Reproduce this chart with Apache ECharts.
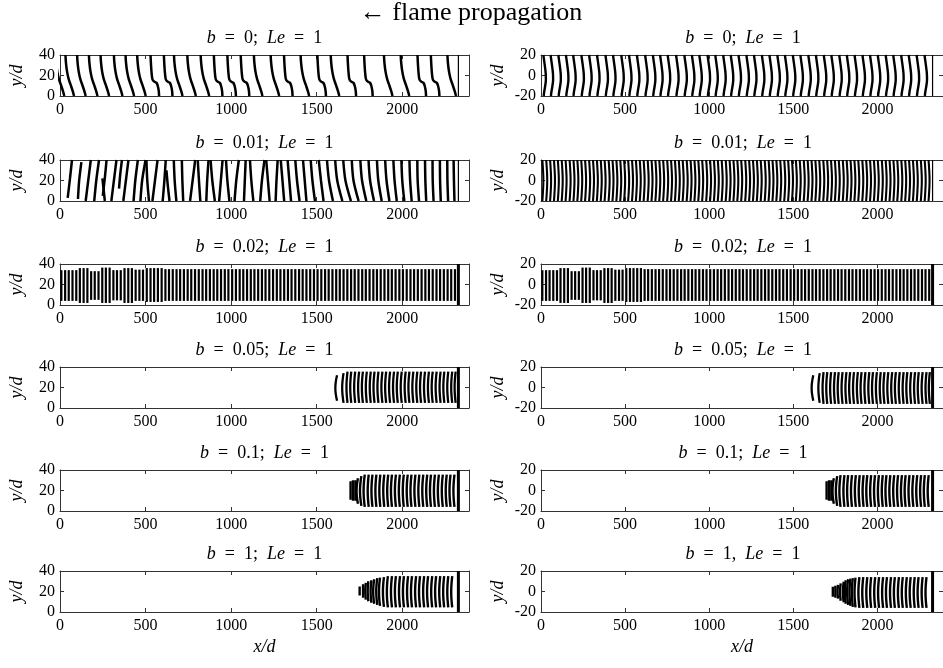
<!DOCTYPE html>
<html>
<head>
<meta charset="utf-8">
<script src="https://cdn.jsdelivr.net/npm/echarts@6/dist/echarts.min.js"></script>
<style>
  html, body { margin: 0; padding: 0; background: #fff; }
  #chart { width: 943px; height: 668px; }
</style>
</head>
<body>
<div id="chart"></div>
<script>
// tick values and panel titles
const xTicks = [0, 500, 1000, 1500, 2000];
const yTicksLeft = [0, 20, 40];
const yTicksRight = [-20, 0, 20];
const bValues = ['0', '0.01', '0.02', '0.05', '0.1', '1'];
const rightSeparators = [';', ';', ';', ';', ';', ','];
const endX = 2328;

// b = 0, left: front top positions and shape kind (0 plain, 1 with step)
const b0LeftX = [-25, 32, 100, 169, 237, 315, 383, 451, 529, 607, 666, 744, 822, 899, 978, 1056, 1133, 1231, 1309, 1406, 1504, 1582, 1680, 1777, 1893, 1991, 2089, 2167, 2264];
const b0LeftKind = [0, 0, 0, 0, 0, 0, 0, 0, 1, 1, 0, 0, 0, 1, 1, 1, 0, 0, 1, 0, 1, 0, 1, 1, 0, 0, 1, 1, 0];
// shapes as [y, dx]
const shapePlain = [[40, 0], [32, 3], [24, 9], [17, 18], [11, 30], [5, 42], [0, 50]];
const shapeStep = [[40, 0], [30, 3], [21, 7], [16, 12], [14, 22], [13, 34], [10, 42], [5, 48], [0, 50]];

// b = 0, right
const b0RightX = [14, 57, 103, 148, 191, 240, 286, 333, 383, 428, 477, 523, 570, 619, 665, 708, 753, 803, 852, 897, 941, 990, 1036, 1083, 1128, 1174, 1221, 1266, 1313, 1358, 1405, 1450, 1497, 1542, 1589, 1634, 1681, 1726, 1773, 1818, 1864, 1911, 1956, 2002, 2049, 2094, 2141, 2186, 2233, 2280];
const shapeWave = [[20, 0], [14, 5], [8, 10], [2, 14], [-4, 15], [-10, 11], [-16, 5], [-20, 2]];

// b = 0.01, left: [xBottom, xMid, xTop, yBottom, yTop]
const b001Left = [
  [45, 58, 70, 3, 40], [105, 112, 125, 2, 38], [150, 165, 180, 0, 40], [200, 212, 228, 0, 40],
  [250, 262, 272, 5, 40], [262, 255, 248, 0, 22], [300, 315, 330, 0, 40], [345, 352, 362, 12, 40],
  [370, 385, 400, 0, 40], [430, 440, 455, 0, 40], [470, 480, 500, 0, 40], [520, 510, 505, 0, 40],
  [540, 555, 570, 0, 40], [600, 610, 618, 0, 40], [640, 630, 622, 0, 30], [680, 670, 665, 0, 40],
  [720, 715, 712, 0, 40], [760, 775, 790, 0, 40], [820, 812, 805, 0, 40], [855, 860, 868, 0, 40],
  [905, 890, 880, 0, 40], [930, 940, 950, 0, 40], [990, 978, 970, 0, 40], [1020, 1030, 1045, 0, 40],
  [1075, 1080, 1085, 0, 40], [1130, 1118, 1110, 0, 40], [1170, 1180, 1195, 0, 40], [1225, 1215, 1205, 0, 40],
  [1260, 1265, 1272, 0, 40], [1310, 1300, 1290, 0, 40], [1350, 1340, 1330, 0, 40], [1400, 1385, 1375, 0, 40],
  [1440, 1430, 1420, 0, 40], [1490, 1475, 1465, 0, 40], [1540, 1525, 1512, 0, 40], [1595, 1572, 1560, 0, 40],
  [1650, 1620, 1608, 0, 40], [1700, 1668, 1655, 0, 40], [1745, 1715, 1705, 0, 40], [1790, 1765, 1755, 0, 40],
  [1835, 1812, 1803, 0, 40], [1880, 1860, 1852, 0, 40], [1925, 1908, 1900, 0, 40], [1968, 1955, 1948, 0, 40],
  [2012, 2000, 1995, 0, 40], [2055, 2046, 2042, 0, 40], [2098, 2090, 2088, 0, 40], [2140, 2135, 2133, 0, 40],
  [2183, 2178, 2177, 0, 40], [2225, 2221, 2220, 0, 40], [2268, 2264, 2263, 0, 40], [2305, 2302, 2300, 0, 40]
];

// b = 0.01, right: dense fronts
const b001RightX = [8, 31, 54, 77, 100, 123, 146, 170, 193, 216, 239, 262, 286, 309, 332, 355, 378, 402, 425, 448, 471, 494, 518, 541, 564, 587, 610, 634, 657, 680, 703, 726, 750, 773, 796, 819, 842, 866, 889, 912, 935, 958, 982, 1005, 1028, 1051, 1074, 1098, 1121, 1144, 1167, 1190, 1214, 1237, 1260, 1283, 1306, 1330, 1353, 1376, 1399, 1422, 1446, 1469, 1492, 1515, 1538, 1562, 1585, 1608, 1631, 1654, 1678, 1701, 1724, 1747, 1770, 1794, 1817, 1840, 1863, 1886, 1910, 1933, 1956, 1979, 2002, 2026, 2049, 2072, 2095, 2118, 2142, 2165, 2188, 2211, 2234, 2258, 2281, 2304];
const shapeBow = [[20, 0], [10, 4], [0, 6], [-10, 4], [-20, 0]];

// b = 0.02: straight fronts, spans [count, yLow, yHigh] for the first ones
const b002X = [8, 30, 51, 73, 95, 116, 138, 160, 182, 203, 225, 247, 268, 290, 312, 333, 355, 377, 399, 420, 442, 464, 485, 507, 529, 550, 572, 594, 616, 637, 659, 681, 702, 724, 746, 767, 789, 811, 833, 854, 876, 898, 919, 941, 963, 984, 1006, 1028, 1050, 1071, 1093, 1115, 1136, 1158, 1180, 1201, 1223, 1245, 1267, 1288, 1310, 1332, 1353, 1375, 1397, 1418, 1440, 1462, 1484, 1505, 1527, 1549, 1570, 1592, 1614, 1635, 1657, 1679, 1701, 1722, 1744, 1766, 1787, 1809, 1831, 1852, 1874, 1896, 1918, 1939, 1961, 1983, 2004, 2026, 2048, 2069, 2091, 2113, 2135, 2156, 2178, 2200, 2221, 2243, 2265, 2286, 2308];
const b002LeftGroups = [[5, 4, 34], [3, 2, 36], [3, 5, 33], [3, 2, 36.5], [3, 4.5, 34], [3, 2, 36], [3, 4, 34.5], [5, 3, 36]];
const b002LeftRest = [4, 35];
const b002RightGroups = [[5, -16, 14], [3, -18, 16], [3, -15, 13], [3, -18, 16.5], [3, -15.5, 14], [3, -18, 16], [3, -16, 14.5], [5, -17, 16]];
const b002RightRest = [-16, 15];

// b = 0.05
const b005X = [1619, 1657, 1680, 1702, 1725, 1748, 1770, 1793, 1816, 1838, 1861, 1884, 1906, 1929, 1952, 1974, 1997, 2020, 2042, 2065, 2088, 2110, 2133, 2156, 2178, 2201, 2224, 2246, 2269, 2292, 2312];
const b005LeftSpans = [[7, 32], [5, 34]];
const b005LeftRest = [5, 35.5];
const b005RightSpans = [[-13, 12], [-15, 14]];
const b005RightRest = [-16, 15];
const b005Depth = [10, 8];

// b = 0.1
const b01X = [1698, 1712, 1726, 1741, 1761, 1781, 1804, 1826, 1849, 1872, 1895, 1918, 1940, 1963, 1986, 2009, 2032, 2054, 2077, 2100, 2123, 2146, 2168, 2191, 2214, 2237, 2260, 2282, 2305];
const b01LeftSpans = [[11, 29], [10, 30], [10, 30], [7, 32], [5, 34], [4, 35.5]];
const b01LeftRest = [4, 35.5];
const b01RightSpans = [[-9, 9], [-10, 10], [-10, 10], [-13, 12], [-15, 14], [-16, 15]];
const b01RightRest = [-16, 15];
const b01Depth = [0, 0, 0, 8, 8, 7];

// b = 1
const b1LeftX = [1751, 1771, 1787, 1802, 1820, 1836, 1854, 1870, 1893, 1916, 1940, 1963, 1987, 2010, 2034, 2057, 2081, 2104, 2128, 2151, 2175, 2198, 2222, 2245, 2269, 2292];
const b1LeftSpans = [[16, 25], [14, 27], [12, 28.5], [10.5, 30], [9, 31], [8, 32], [7, 33], [6, 33.5], [5, 34], [4.5, 35]];
const b1LeftRest = [4.5, 35];
const b1RightX = [1735, 1750, 1766, 1782, 1800, 1812, 1826, 1840, 1854, 1870, 1893, 1916, 1940, 1963, 1987, 2010, 2034, 2057, 2081, 2104, 2128, 2151, 2175, 2198, 2222, 2245, 2269, 2292];
const b1RightSpans = [[-5, 4.6], [-6, 5.5], [-7, 6.5], [-9, 8], [-10.5, 9.5], [-12, 11], [-13, 12], [-14, 12.5], [-15, 13], [-15.5, 13.5]];
const b1RightRest = [-16, 14];
const b1Depth = [0, 0, 3, 4, 5, 6];

// arc shape "(" : fraction along span and relative bend
const arcT = [0, 0.25, 0.5, 0.75, 1];
const arcBend = [0, 0.72, 1, 0.72, 0];

const FONT = 'Liberation Serif';
const colLeft = [60, 541];
const colWidth = [409, 404];
const rowTop = [55, 160, 264, 367, 470, 571];
const plotH = 41;

const chart = echarts.init(document.getElementById('chart'));

const grids = [], xAxes = [], yAxes = [], series = [], graphics = [];

function addLine(g, pts, width, smooth) {
  series.push({
    type: 'line', xAxisIndex: 2 * g, yAxisIndex: 2 * g,
    data: pts, symbol: 'none', showSymbol: false, smooth: smooth || false,
    lineStyle: { color: '#000', width: width },
    silent: true, animation: false
  });
}

function arcFront(g, x0, lo, hi, depth, width) {
  const pts = arcT.map((t, i) => [x0 - depth * arcBend[i], lo + t * (hi - lo)]);
  addLine(g, pts, width, depth > 0 ? 0.5 : false);
}

function spanOf(list, i, rest) {
  return i < list.length ? list[i] : rest;
}

const plainNumber = v => String(v);

for (let r = 0; r < 6; r++) {
  for (let c = 0; c < 2; c++) {
    const g = r * 2 + c;
    const yMin = c === 0 ? 0 : -20, yMax = c === 0 ? 40 : 20;
    grids.push({ left: colLeft[c], top: rowTop[r], width: colWidth[c], height: plotH, containLabel: false });
    const axisLine = { show: true, onZero: false, lineStyle: { color: '#333', width: 1 } };
    const tick = { show: true, inside: true, length: 4, lineStyle: { color: '#333', width: 1 } };
    xAxes.push({
      type: 'value', gridIndex: g, min: 0, max: 2390, position: 'bottom',
      axisLine, axisTick: Object.assign({ customValues: xTicks }, tick),
      axisLabel: { customValues: xTicks, formatter: plainNumber, fontFamily: FONT, fontSize: 16, color: '#000', margin: 6 },
      splitLine: { show: false },
      name: r === 5 ? 'x/d' : '', nameLocation: 'middle', nameGap: 26,
      nameTextStyle: { fontFamily: FONT, fontSize: 18, fontStyle: 'italic', color: '#000' }
    });
    xAxes.push({
      type: 'value', gridIndex: g, min: 0, max: 2390, position: 'top',
      axisLine, axisTick: Object.assign({ customValues: xTicks }, tick),
      axisLabel: { show: false }, splitLine: { show: false }
    });
    const yt = c === 0 ? yTicksLeft : yTicksRight;
    yAxes.push({
      type: 'value', gridIndex: g, min: yMin, max: yMax, position: 'left',
      axisLine, axisTick: Object.assign({ customValues: yt }, tick),
      axisLabel: { customValues: yt, formatter: plainNumber, fontFamily: FONT, fontSize: 16, color: '#000', margin: 5 },
      splitLine: { show: false },
      name: 'y/d', nameLocation: 'middle', nameGap: 34,
      nameTextStyle: { fontFamily: FONT, fontSize: 18, fontStyle: 'italic', color: '#000' }
    });
    yAxes.push({
      type: 'value', gridIndex: g, min: yMin, max: yMax, position: 'right',
      axisLine, axisTick: Object.assign({ customValues: yt }, tick),
      axisLabel: { show: false }, splitLine: { show: false }
    });

    const sep = c === 0 ? ';' : rightSeparators[r];
    graphics.push({
      type: 'text', x: colLeft[c] + colWidth[c] / 2, y: rowTop[r] - 17,
      style: {
        text: '{i|b}\u2002=\u2002' + bValues[r] + sep + '\u2002{i|Le}\u2002=\u20021',
        rich: { i: { fontFamily: FONT, fontSize: 18, fontStyle: 'italic', fill: '#000' } },
        font: '18px "' + FONT + '"', fill: '#000',
        align: 'center', verticalAlign: 'middle', textAlign: 'center', textVerticalAlign: 'middle'
      }
    });

    // end line of the domain
    addLine(g, [[endX, yMin], [endX, yMax]], r < 2 ? 1.2 : 3);
  }
}

// b = 0
b0LeftX.forEach((x0, i) => {
  const shape = b0LeftKind[i] ? shapeStep : shapePlain;
  addLine(0, shape.map(([y, dx]) => [x0 + dx, y]), 2.5, 0.4);
});
b0RightX.forEach(x0 => addLine(1, shapeWave.map(([y, dx]) => [x0 + dx, y]), 2.4, 0.4));

// b = 0.01
b001Left.forEach(([xb, xm, xt, yb, ytop]) => addLine(2, [[xb, yb], [xm, (yb + ytop) / 2], [xt, ytop]], 2.5, 0.3));
b001RightX.forEach(x0 => addLine(3, shapeBow.map(([y, dx]) => [x0 + dx, y]), 2.1, 0.5));

// b = 0.02
function groupSpans(groups, n, rest) {
  const out = [];
  groups.forEach(([cnt, lo, hi]) => { for (let k = 0; k < cnt; k++) out.push([lo, hi]); });
  while (out.length < n) out.push(rest);
  return out;
}
const spL = groupSpans(b002LeftGroups, b002X.length, b002LeftRest);
const spR = groupSpans(b002RightGroups, b002X.length, b002RightRest);
b002X.forEach((x0, i) => {
  addLine(4, [[x0, spL[i][0]], [x0, spL[i][1]]], 2.2);
  addLine(5, [[x0, spR[i][0]], [x0, spR[i][1]]], 2.2);
});

// b = 0.05
b005X.forEach((x0, i) => {
  const d = i < b005Depth.length ? b005Depth[i] : 6;
  const sl = spanOf(b005LeftSpans, i, b005LeftRest);
  const sr = spanOf(b005RightSpans, i, b005RightRest);
  arcFront(6, x0, sl[0], sl[1], d, 2.3);
  arcFront(7, x0, sr[0], sr[1], d, 2.3);
});

// b = 0.1
b01X.forEach((x0, i) => {
  const d = i < b01Depth.length ? b01Depth[i] : 6;
  const sl = spanOf(b01LeftSpans, i, b01LeftRest);
  const sr = spanOf(b01RightSpans, i, b01RightRest);
  arcFront(8, x0, sl[0], sl[1], d, 2.4);
  arcFront(9, x0, sr[0], sr[1], d, 2.4);
});

// b = 1
b1LeftX.forEach((x0, i) => {
  const d = i < b1Depth.length ? b1Depth[i] : 6;
  const sl = spanOf(b1LeftSpans, i, b1LeftRest);
  arcFront(10, x0, sl[0], sl[1], d, 2.4);
});
b1RightX.forEach((x0, i) => {
  const d = i < b1Depth.length ? b1Depth[i] : 6;
  const sr = spanOf(b1RightSpans, i, b1RightRest);
  arcFront(11, x0, sr[0], sr[1], d, 2.4);
});

graphics.push({
  type: 'text', x: 471, y: 13,
  style: {
    text: '\u2190 flame propagation', font: '26px "' + FONT + '"', fill: '#000',
    align: 'center', verticalAlign: 'middle', textAlign: 'center', textVerticalAlign: 'middle'
  }
});

chart.setOption({
  animation: false,
  grid: grids,
  xAxis: xAxes,
  yAxis: yAxes,
  series: series,
  graphic: graphics
});
</script>
</body>
</html>
